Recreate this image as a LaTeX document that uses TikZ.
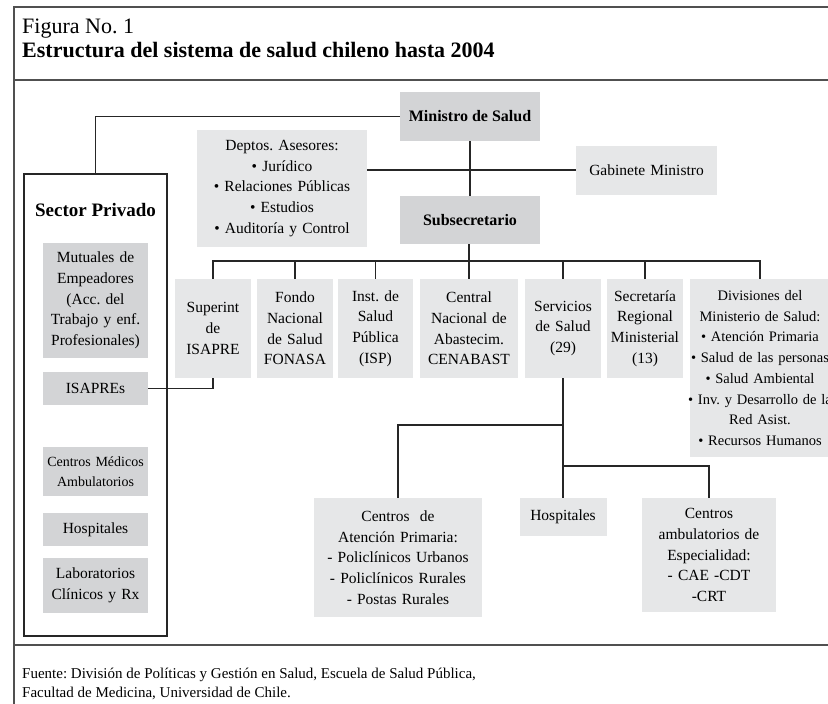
\documentclass[tikz,border=0pt]{standalone}
\usepackage{fontspec}
\setmainfont{Liberation Serif}
\usepackage{tikz}
\frenchspacing

\definecolor{boxdark}{HTML}{D3D4D6}
\definecolor{boxlight}{HTML}{E6E7E8}
\definecolor{framegray}{HTML}{505050}

\newcommand{\bodyfont}{\fontsize{15.5}{20.7}\selectfont}

\tikzset{
  darkbox/.style={fill=boxdark, inner sep=0pt, align=center, font=\bodyfont},
  lightbox/.style={fill=boxlight, inner sep=0pt, align=center, font=\bodyfont},
  conn/.style={line width=1.2pt, black!85},
  frameline/.style={line width=1.8pt, framegray},
}

\begin{document}
\begin{tikzpicture}[x=1pt, y=-1pt]
  \useasboundingbox (0,0) rectangle (828,704);

  % marco y encabezado
  \draw[frameline] (828,7) -- (14,7) -- (14,704);
  \draw[frameline] (14,80) -- (828,80);
  \draw[frameline] (14,645) -- (828,645);
  \node[anchor=base west, inner sep=0pt, font=\fontsize{22}{24}\selectfont] (fig) at (22,33) {Figura No. 1};
  \node[anchor=base west, inner sep=0pt, font=\fontsize{22}{24}\selectfont\bfseries] (titulo) at (22,57) {Estructura del sistema de salud chileno hasta 2004};

  % nivel central
  \node[darkbox, font=\fontsize{16}{20}\selectfont\bfseries, minimum width=140pt, minimum height=49pt] (ministro) at (470,116.5) {Ministro de Salud};
  \node[darkbox, font=\fontsize{16}{20}\selectfont\bfseries, minimum width=140pt, minimum height=48pt] (subsec) at (470,220) {Subsecretario};
  \node[lightbox, text width=170pt, minimum height=117pt] (deptos) at (282,188.5)
    {Deptos. Asesores:\\ \textbullet{} Jurídico\\ \textbullet{} Relaciones Públicas\\ \textbullet{} Estudios\\ \textbullet{} Auditoría y Control};
  \node[lightbox, text width=141pt, minimum height=49pt] (gabinete) at (646.5,170) {Gabinete Ministro};

  % sector privado
  \node[draw=black!85, line width=1.2pt, fill=white, minimum width=143pt, minimum height=462pt, inner sep=0pt] (sector) at (95.5,405) {};
  \node[inner sep=0pt, font=\fontsize{19}{22}\selectfont\bfseries] (sectortit) at (95.5,210) {Sector Privado};
  \node[darkbox, text width=105pt, minimum height=115pt] (mutuales) at (95.5,300.5)
    {Mutuales de\\ Empeadores\\ (Acc. del\\ Trabajo y enf.\\ Profesionales)};
  \node[darkbox, text width=105pt, minimum height=33pt] (isapres) at (95.5,388.5) {ISAPREs};
  \node[darkbox, font=\fontsize{14}{20}\selectfont, text width=105pt, minimum height=49pt] (cmedicos) at (95.5,471.5)
    {Centros Médicos\\ Ambulatorios};
  \node[darkbox, text width=105pt, minimum height=33pt] (hospriv) at (95.5,529.5) {Hospitales};
  \node[darkbox, text width=105pt, minimum height=55pt] (labs) at (95.5,585.5) {Laboratorios\\ Clínicos y Rx};

  % organismos dependientes
  \node[lightbox, text width=76pt, minimum height=99pt] (superint) at (213,328.5) {Superint\\ de\\ ISAPRE};
  \node[lightbox, text width=76pt, minimum height=99pt] (fondo) at (295,328.5) {Fondo\\ Nacional\\ de Salud\\ FONASA};
  \node[lightbox, text width=75pt, minimum height=99pt] (inst) at (375.5,328.5) {Inst. de\\ Salud\\ Pública\\ (ISP)};
  \node[lightbox, text width=98pt, minimum height=99pt] (central) at (469,328.5) {Central\\ Nacional de\\ Abastecim.\\ CENABAST};
  \node[lightbox, text width=76pt, minimum height=99pt] (servicios) at (563,328.5) {Servicios\\ de Salud\\ (29)};
  \node[lightbox, text width=76pt, minimum height=99pt] (secretaria) at (645,328.5) {Secretaría\\ Regional\\ Ministerial\\ (13)};
  \node[lightbox, font=\fontsize{14.5}{20.7}\selectfont, text width=140pt, minimum height=178pt] (divisiones) at (760,368)
    {Divisiones del\\ Ministerio de Salud:\\ \textbullet{} Atención Primaria\\
     \makebox[\linewidth]{\textbullet{} Salud de las personas}\\ \textbullet{} Salud Ambiental\\
     \makebox[\linewidth]{\textbullet{} Inv. y Desarrollo de la}\\ Red Asist.\\ \textbullet{} Recursos Humanos};

  % red asistencial
  \node[lightbox, text width=168pt, minimum height=119pt] (cap) at (398,557.5)
    {Centros~ de\\ Atención Primaria:\\ - Policlínicos Urbanos\\ - Policlínicos Rurales\\ - Postas Rurales};
  \node[lightbox, text width=87pt, minimum height=38pt] (hosp) at (563,517) {Hospitales};
  \node[lightbox, text width=134pt, minimum height=114pt] (camb) at (709,555)
    {Centros\\ ambulatorios de\\ Especialidad:\\ - CAE -CDT\\ -CRT};

  % conexiones
  \coordinate (bus) at (0,261);
  \coordinate (splitA) at (0,425);
  \coordinate (splitB) at (0,466);
  \draw[conn] (sector.north) |- (ministro.west);
  \draw[conn] (ministro.south) -- (subsec.north);
  \draw[conn] (deptos.east |- gabinete.west) -- (gabinete.west);
  \draw[conn] (subsec.south) -- (central.north |- subsec.south) -- (central.north);
  \draw[conn] (superint.north) |- (bus -| divisiones.north) -- (divisiones.north);
  \foreach \n in {fondo,inst,servicios,secretaria}
    \draw[conn] (\n.north) -- (\n.north |- bus);
  \draw[conn] (isapres.east) -| (superint.south);
  \draw[conn] (servicios.south) -- (hosp.north);
  \draw[conn] (servicios.south |- splitA) -| (cap.north);
  \draw[conn] (servicios.south |- splitB) -| (camb.north);

  % fuente
  \node[anchor=base west, inner sep=0pt, font=\fontsize{15}{19}\selectfont] (fuente1) at (22,678) {Fuente: División de Políticas y Gestión en Salud, Escuela de Salud Pública,};
  \node[anchor=base west, inner sep=0pt, font=\fontsize{15}{19}\selectfont] (fuente2) at (22,697) {Facultad de Medicina, Universidad de Chile.};
\end{tikzpicture}
\end{document}
